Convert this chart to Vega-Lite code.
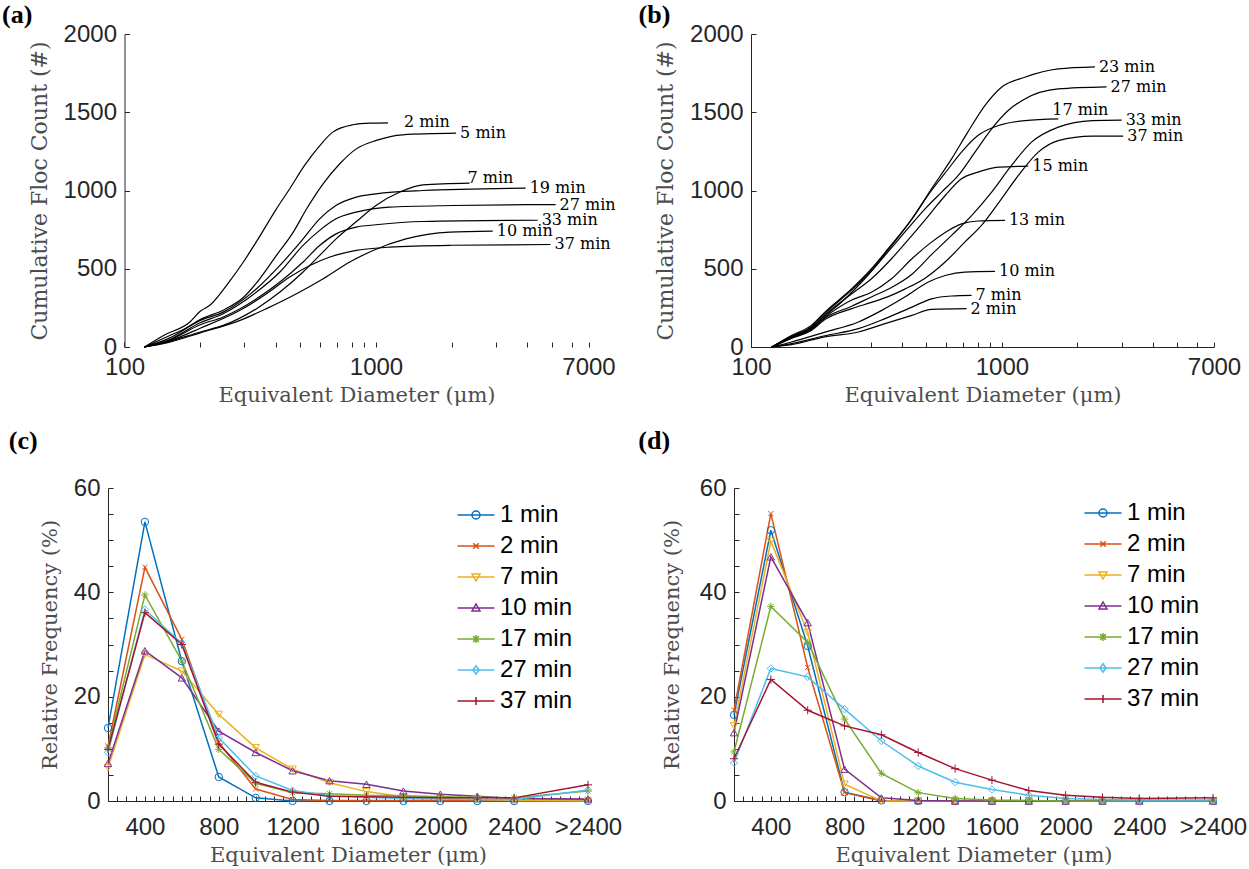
{
 "$schema": "https://vega.github.io/schema/vega-lite/v6.json",
 "padding": {"left": 2, "top": 2, "right": 2, "bottom": 2},
 "background": "white",
 "config": {
  "view": {"stroke": null},
  "axis": {"grid": false, "domainColor": "#262626", "domainWidth": 1, "tickColor": "#262626", "tickWidth": 1, "tickSize": -5, "labelFont": "Liberation Sans", "labelFontSize": 24, "labelColor": "#262626", "labelPadding": 13, "labelFlush": false, "labelOverlap": false, "titleFont": "DejaVu Serif", "titleFontSize": 21, "titleFontWeight": "normal", "titleColor": "#4d4d4d"},
  "axisY": {"titlePadding": 12},
  "axisX": {"titlePadding": 5}
 },
 "datasets": {
  "cumA": [
   {"s":"2 min","d":120,"v":0},{"s":"2 min","d":143,"v":74},{"s":"2 min","d":182,"v":160},{"s":"2 min","d":200,"v":228},{"s":"2 min","d":219,"v":268},{"s":"2 min","d":259,"v":410},{"s":"2 min","d":297,"v":543},{"s":"2 min","d":340,"v":691},{"s":"2 min","d":402,"v":883},{"s":"2 min","d":454,"v":1011},{"s":"2 min","d":520,"v":1160},{"s":"2 min","d":598,"v":1287},{"s":"2 min","d":673,"v":1373},{"s":"2 min","d":810,"v":1420},{"s":"2 min","d":944,"v":1430},{"s":"2 min","d":1116,"v":1432},
   {"s":"5 min","d":120,"v":0},{"s":"5 min","d":150,"v":70},{"s":"5 min","d":175,"v":120},{"s":"5 min","d":200,"v":175},{"s":"5 min","d":250,"v":240},{"s":"5 min","d":296,"v":315},{"s":"5 min","d":345,"v":436},{"s":"5 min","d":402,"v":585},{"s":"5 min","d":469,"v":734},{"s":"5 min","d":530,"v":883},{"s":"5 min","d":616,"v":1043},{"s":"5 min","d":718,"v":1171},{"s":"5 min","d":835,"v":1266},{"s":"5 min","d":1003,"v":1320},{"s":"5 min","d":1275,"v":1356},{"s":"5 min","d":2083,"v":1366},
   {"s":"7 min","d":120,"v":0},{"s":"7 min","d":150,"v":35},{"s":"7 min","d":200,"v":96},{"s":"7 min","d":247,"v":138},{"s":"7 min","d":335,"v":245},{"s":"7 min","d":415,"v":351},{"s":"7 min","d":513,"v":479},{"s":"7 min","d":597,"v":585},{"s":"7 min","d":694,"v":691},{"s":"7 min","d":834,"v":800},{"s":"7 min","d":1000,"v":904},{"s":"7 min","d":1245,"v":990},{"s":"7 min","d":1536,"v":1036},{"s":"7 min","d":2355,"v":1047},
   {"s":"10 min","d":120,"v":0},{"s":"10 min","d":150,"v":30},{"s":"10 min","d":200,"v":90},{"s":"10 min","d":288,"v":170},{"s":"10 min","d":367,"v":245},{"s":"10 min","d":483,"v":340},{"s":"10 min","d":617,"v":436},{"s":"10 min","d":787,"v":543},{"s":"10 min","d":974,"v":617},{"s":"10 min","d":1315,"v":691},{"s":"10 min","d":1965,"v":734},{"s":"10 min","d":2912,"v":740},
   {"s":"19 min","d":120,"v":0},{"s":"19 min","d":150,"v":55},{"s":"19 min","d":200,"v":170},{"s":"19 min","d":247,"v":223},{"s":"19 min","d":335,"v":372},{"s":"19 min","d":415,"v":521},{"s":"19 min","d":513,"v":691},{"s":"19 min","d":597,"v":819},{"s":"19 min","d":693,"v":904},{"s":"19 min","d":835,"v":958},{"s":"19 min","d":1000,"v":979},{"s":"19 min","d":1536,"v":1000},{"s":"19 min","d":3937,"v":1015},
   {"s":"27 min","d":120,"v":0},{"s":"27 min","d":150,"v":45},{"s":"27 min","d":200,"v":155},{"s":"27 min","d":247,"v":213},{"s":"27 min","d":335,"v":351},{"s":"27 min","d":415,"v":479},{"s":"27 min","d":513,"v":649},{"s":"27 min","d":597,"v":745},{"s":"27 min","d":694,"v":819},{"s":"27 min","d":835,"v":862},{"s":"27 min","d":1130,"v":894},{"s":"27 min","d":2000,"v":904},{"s":"27 min","d":5180,"v":910},
   {"s":"33 min","d":120,"v":0},{"s":"33 min","d":150,"v":42},{"s":"33 min","d":200,"v":142},{"s":"33 min","d":247,"v":192},{"s":"33 min","d":335,"v":308},{"s":"33 min","d":415,"v":415},{"s":"33 min","d":513,"v":543},{"s":"33 min","d":597,"v":649},{"s":"33 min","d":694,"v":723},{"s":"33 min","d":835,"v":766},{"s":"33 min","d":1000,"v":781},{"s":"33 min","d":1536,"v":802},{"s":"33 min","d":4395,"v":810},
   {"s":"37 min","d":120,"v":0},{"s":"37 min","d":150,"v":38},{"s":"37 min","d":200,"v":120},{"s":"37 min","d":288,"v":235},{"s":"37 min","d":367,"v":340},{"s":"37 min","d":454,"v":447},{"s":"37 min","d":546,"v":521},{"s":"37 min","d":656,"v":575},{"s":"37 min","d":835,"v":617},{"s":"37 min","d":1130,"v":638},{"s":"37 min","d":2000,"v":650},{"s":"37 min","d":4948,"v":655}
  ],
  "cumB": [
   {"s":"23 min","d":121,"v":0},{"s":"23 min","d":145,"v":74},{"s":"23 min","d":174,"v":138},{"s":"23 min","d":197,"v":223},{"s":"23 min","d":252,"v":372},{"s":"23 min","d":302,"v":500},{"s":"23 min","d":352,"v":628},{"s":"23 min","d":438,"v":819},{"s":"23 min","d":524,"v":1011},{"s":"23 min","d":630,"v":1202},{"s":"23 min","d":731,"v":1373},{"s":"23 min","d":855,"v":1543},{"s":"23 min","d":996,"v":1660},{"s":"23 min","d":1234,"v":1724},{"s":"23 min","d":1677,"v":1777},{"s":"23 min","d":2347,"v":1790},
   {"s":"27 min","d":121,"v":0},{"s":"27 min","d":145,"v":65},{"s":"27 min","d":174,"v":125},{"s":"27 min","d":197,"v":200},{"s":"27 min","d":216,"v":250},{"s":"27 min","d":284,"v":436},{"s":"27 min","d":342,"v":585},{"s":"27 min","d":410,"v":734},{"s":"27 min","d":494,"v":883},{"s":"27 min","d":575,"v":990},{"s":"27 min","d":670,"v":1096},{"s":"27 min","d":781,"v":1245},{"s":"27 min","d":910,"v":1394},{"s":"27 min","d":1059,"v":1511},{"s":"27 min","d":1234,"v":1585},{"s":"27 min","d":1677,"v":1649},{"s":"27 min","d":2612,"v":1662},
   {"s":"17 min","d":121,"v":0},{"s":"17 min","d":145,"v":70},{"s":"17 min","d":174,"v":130},{"s":"17 min","d":197,"v":215},{"s":"17 min","d":252,"v":365},{"s":"17 min","d":302,"v":490},{"s":"17 min","d":352,"v":620},{"s":"17 min","d":438,"v":819},{"s":"17 min","d":524,"v":1000},{"s":"17 min","d":612,"v":1139},{"s":"17 min","d":690,"v":1245},{"s":"17 min","d":802,"v":1351},{"s":"17 min","d":969,"v":1415},{"s":"17 min","d":1234,"v":1447},{"s":"17 min","d":1677,"v":1458},
   {"s":"15 min","d":121,"v":0},{"s":"15 min","d":145,"v":65},{"s":"15 min","d":174,"v":120},{"s":"15 min","d":197,"v":205},{"s":"15 min","d":252,"v":340},{"s":"15 min","d":302,"v":436},{"s":"15 min","d":363,"v":564},{"s":"15 min","d":438,"v":713},{"s":"15 min","d":524,"v":862},{"s":"15 min","d":594,"v":968},{"s":"15 min","d":690,"v":1075},{"s":"15 min","d":802,"v":1117},{"s":"15 min","d":969,"v":1149},{"s":"15 min","d":1273,"v":1156},
   {"s":"13 min","d":121,"v":0},{"s":"13 min","d":145,"v":60},{"s":"13 min","d":174,"v":115},{"s":"13 min","d":197,"v":190},{"s":"13 min","d":252,"v":300},{"s":"13 min","d":302,"v":350},{"s":"13 min","d":363,"v":436},{"s":"13 min","d":438,"v":564},{"s":"13 min","d":524,"v":670},{"s":"13 min","d":612,"v":745},{"s":"13 min","d":690,"v":787},{"s":"13 min","d":802,"v":805},{"s":"13 min","d":1028,"v":809},
   {"s":"33 min","d":121,"v":0},{"s":"33 min","d":145,"v":60},{"s":"33 min","d":174,"v":112},{"s":"33 min","d":197,"v":185},{"s":"33 min","d":252,"v":260},{"s":"33 min","d":302,"v":320},{"s":"33 min","d":363,"v":380},{"s":"33 min","d":438,"v":465},{"s":"33 min","d":524,"v":590},{"s":"33 min","d":630,"v":713},{"s":"33 min","d":757,"v":840},{"s":"33 min","d":910,"v":990},{"s":"33 min","d":1092,"v":1160},{"s":"33 min","d":1312,"v":1309},{"s":"33 min","d":1677,"v":1405},{"s":"33 min","d":2288,"v":1447},{"s":"33 min","d":2999,"v":1450},
   {"s":"37 min","d":121,"v":0},{"s":"37 min","d":145,"v":55},{"s":"37 min","d":174,"v":105},{"s":"37 min","d":197,"v":175},{"s":"37 min","d":252,"v":245},{"s":"37 min","d":302,"v":285},{"s":"37 min","d":350,"v":320},{"s":"37 min","d":410,"v":370},{"s":"37 min","d":494,"v":440},{"s":"37 min","d":594,"v":543},{"s":"37 min","d":711,"v":670},{"s":"37 min","d":829,"v":777},{"s":"37 min","d":996,"v":947},{"s":"37 min","d":1163,"v":1096},{"s":"37 min","d":1396,"v":1245},{"s":"37 min","d":1677,"v":1319},{"s":"37 min","d":2288,"v":1347},{"s":"37 min","d":3043,"v":1348},
   {"s":"10 min","d":121,"v":0},{"s":"10 min","d":145,"v":32},{"s":"10 min","d":197,"v":95},{"s":"10 min","d":268,"v":160},{"s":"10 min","d":332,"v":234},{"s":"10 min","d":410,"v":319},{"s":"10 min","d":509,"v":415},{"s":"10 min","d":594,"v":457},{"s":"10 min","d":711,"v":479},{"s":"10 min","d":938,"v":483},
   {"s":"7 min","d":121,"v":0},{"s":"7 min","d":145,"v":21},{"s":"7 min","d":197,"v":72},{"s":"7 min","d":268,"v":117},{"s":"7 min","d":342,"v":181},{"s":"7 min","d":438,"v":255},{"s":"7 min","d":524,"v":308},{"s":"7 min","d":630,"v":326},{"s":"7 min","d":757,"v":330},
   {"s":"2 min","d":121,"v":0},{"s":"2 min","d":145,"v":15},{"s":"2 min","d":197,"v":65},{"s":"2 min","d":268,"v":96},{"s":"2 min","d":342,"v":149},{"s":"2 min","d":438,"v":202},{"s":"2 min","d":524,"v":240},{"s":"2 min","d":723,"v":245}
  ],
  "freqC": [
   {"s":"1 min","x":200,"v":14},{"s":"1 min","x":400,"v":53.5},{"s":"1 min","x":600,"v":26.8},{"s":"1 min","x":800,"v":4.6},{"s":"1 min","x":1000,"v":0.6},{"s":"1 min","x":1200,"v":0},{"s":"1 min","x":1400,"v":0},{"s":"1 min","x":1600,"v":0},{"s":"1 min","x":1800,"v":0},{"s":"1 min","x":2000,"v":0},{"s":"1 min","x":2200,"v":0},{"s":"1 min","x":2400,"v":0},{"s":"1 min","x":2800,"v":0},
   {"s":"2 min","x":200,"v":10.5},{"s":"2 min","x":400,"v":44.8},{"s":"2 min","x":600,"v":31},{"s":"2 min","x":800,"v":11.2},{"s":"2 min","x":1000,"v":2.3},{"s":"2 min","x":1200,"v":0.3},{"s":"2 min","x":1400,"v":0.1},{"s":"2 min","x":1600,"v":0.1},{"s":"2 min","x":1800,"v":0.1},{"s":"2 min","x":2000,"v":0.1},{"s":"2 min","x":2200,"v":0.1},{"s":"2 min","x":2400,"v":0.1},{"s":"2 min","x":2800,"v":0.3},
   {"s":"7 min","x":200,"v":6.4},{"s":"7 min","x":400,"v":28.1},{"s":"7 min","x":600,"v":24.9},{"s":"7 min","x":800,"v":16.6},{"s":"7 min","x":1000,"v":10.2},{"s":"7 min","x":1200,"v":6.1},{"s":"7 min","x":1400,"v":3.5},{"s":"7 min","x":1600,"v":1.8},{"s":"7 min","x":1800,"v":0.8},{"s":"7 min","x":2000,"v":0.5},{"s":"7 min","x":2200,"v":0.3},{"s":"7 min","x":2400,"v":0.1},{"s":"7 min","x":2800,"v":0},
   {"s":"10 min","x":200,"v":7.2},{"s":"10 min","x":400,"v":28.8},{"s":"10 min","x":600,"v":23.6},{"s":"10 min","x":800,"v":13.4},{"s":"10 min","x":1000,"v":9.3},{"s":"10 min","x":1200,"v":5.8},{"s":"10 min","x":1400,"v":3.9},{"s":"10 min","x":1600,"v":3.2},{"s":"10 min","x":1800,"v":1.9},{"s":"10 min","x":2000,"v":1.3},{"s":"10 min","x":2200,"v":0.9},{"s":"10 min","x":2400,"v":0.5},{"s":"10 min","x":2800,"v":0.4},
   {"s":"17 min","x":200,"v":10.2},{"s":"17 min","x":400,"v":39.5},{"s":"17 min","x":600,"v":26.8},{"s":"17 min","x":800,"v":9.9},{"s":"17 min","x":1000,"v":3.4},{"s":"17 min","x":1200,"v":1.6},{"s":"17 min","x":1400,"v":1.4},{"s":"17 min","x":1600,"v":1.1},{"s":"17 min","x":1800,"v":1},{"s":"17 min","x":2000,"v":0.8},{"s":"17 min","x":2200,"v":0.7},{"s":"17 min","x":2400,"v":0.6},{"s":"17 min","x":2800,"v":1.9},
   {"s":"27 min","x":200,"v":9.3},{"s":"27 min","x":400,"v":36.7},{"s":"27 min","x":600,"v":30.2},{"s":"27 min","x":800,"v":12.1},{"s":"27 min","x":1000,"v":4.8},{"s":"27 min","x":1200,"v":2},{"s":"27 min","x":1400,"v":1},{"s":"27 min","x":1600,"v":0.7},{"s":"27 min","x":1800,"v":0.5},{"s":"27 min","x":2000,"v":0.4},{"s":"27 min","x":2200,"v":0.3},{"s":"27 min","x":2400,"v":0.3},{"s":"27 min","x":2800,"v":2.1},
   {"s":"37 min","x":200,"v":9.9},{"s":"37 min","x":400,"v":36.1},{"s":"37 min","x":600,"v":30},{"s":"37 min","x":800,"v":10.9},{"s":"37 min","x":1000,"v":3.6},{"s":"37 min","x":1200,"v":1.7},{"s":"37 min","x":1400,"v":0.9},{"s":"37 min","x":1600,"v":0.8},{"s":"37 min","x":1800,"v":0.7},{"s":"37 min","x":2000,"v":0.6},{"s":"37 min","x":2200,"v":0.6},{"s":"37 min","x":2400,"v":0.6},{"s":"37 min","x":2800,"v":3.1}
  ],
  "freqD": [
   {"s":"1 min","x":200,"v":16.5},{"s":"1 min","x":400,"v":51.9},{"s":"1 min","x":600,"v":29.7},{"s":"1 min","x":800,"v":1.7},{"s":"1 min","x":1000,"v":0.1},{"s":"1 min","x":1200,"v":0},{"s":"1 min","x":1400,"v":0},{"s":"1 min","x":1600,"v":0},{"s":"1 min","x":1800,"v":0},{"s":"1 min","x":2000,"v":0},{"s":"1 min","x":2200,"v":0},{"s":"1 min","x":2400,"v":0},{"s":"1 min","x":2800,"v":0},
   {"s":"2 min","x":200,"v":17.4},{"s":"2 min","x":400,"v":55.1},{"s":"2 min","x":600,"v":25.6},{"s":"2 min","x":800,"v":1.6},{"s":"2 min","x":1000,"v":0},{"s":"2 min","x":1200,"v":0},{"s":"2 min","x":1400,"v":0},{"s":"2 min","x":1600,"v":0},{"s":"2 min","x":1800,"v":0},{"s":"2 min","x":2000,"v":0},{"s":"2 min","x":2200,"v":0},{"s":"2 min","x":2400,"v":0},{"s":"2 min","x":2800,"v":0},
   {"s":"7 min","x":200,"v":14.4},{"s":"7 min","x":400,"v":49.8},{"s":"7 min","x":600,"v":32.3},{"s":"7 min","x":800,"v":3.2},{"s":"7 min","x":1000,"v":0},{"s":"7 min","x":1200,"v":0},{"s":"7 min","x":1400,"v":0},{"s":"7 min","x":1600,"v":0},{"s":"7 min","x":1800,"v":0},{"s":"7 min","x":2000,"v":0},{"s":"7 min","x":2200,"v":0},{"s":"7 min","x":2400,"v":0},{"s":"7 min","x":2800,"v":0},
   {"s":"10 min","x":200,"v":13.1},{"s":"10 min","x":400,"v":46.8},{"s":"10 min","x":600,"v":34.2},{"s":"10 min","x":800,"v":6.1},{"s":"10 min","x":1000,"v":0.6},{"s":"10 min","x":1200,"v":0.1},{"s":"10 min","x":1400,"v":0},{"s":"10 min","x":1600,"v":0},{"s":"10 min","x":1800,"v":0},{"s":"10 min","x":2000,"v":0},{"s":"10 min","x":2200,"v":0},{"s":"10 min","x":2400,"v":0},{"s":"10 min","x":2800,"v":0},
   {"s":"17 min","x":200,"v":9.4},{"s":"17 min","x":400,"v":37.3},{"s":"17 min","x":600,"v":30.4},{"s":"17 min","x":800,"v":15.7},{"s":"17 min","x":1000,"v":5.3},{"s":"17 min","x":1200,"v":1.6},{"s":"17 min","x":1400,"v":0.5},{"s":"17 min","x":1600,"v":0.2},{"s":"17 min","x":1800,"v":0.1},{"s":"17 min","x":2000,"v":0},{"s":"17 min","x":2200,"v":0},{"s":"17 min","x":2400,"v":0},{"s":"17 min","x":2800,"v":0},
   {"s":"27 min","x":200,"v":7.3},{"s":"27 min","x":400,"v":25.4},{"s":"27 min","x":600,"v":23.8},{"s":"27 min","x":800,"v":17.6},{"s":"27 min","x":1000,"v":11.5},{"s":"27 min","x":1200,"v":6.7},{"s":"27 min","x":1400,"v":3.6},{"s":"27 min","x":1600,"v":2.2},{"s":"27 min","x":1800,"v":1.1},{"s":"27 min","x":2000,"v":0.5},{"s":"27 min","x":2200,"v":0.3},{"s":"27 min","x":2400,"v":0.2},{"s":"27 min","x":2800,"v":0.2},
   {"s":"37 min","x":200,"v":8.1},{"s":"37 min","x":400,"v":23.3},{"s":"37 min","x":600,"v":17.4},{"s":"37 min","x":800,"v":14.4},{"s":"37 min","x":1000,"v":12.7},{"s":"37 min","x":1200,"v":9.3},{"s":"37 min","x":1400,"v":6.2},{"s":"37 min","x":1600,"v":4},{"s":"37 min","x":1800,"v":2},{"s":"37 min","x":2000,"v":1.1},{"s":"37 min","x":2200,"v":0.7},{"s":"37 min","x":2400,"v":0.5},{"s":"37 min","x":2800,"v":0.6}
  ]
 },
 "columns": 2,
 "align": "none",
 "spacing": {"row": 23, "column": 16},
 "concat": [
  {
   "title": {"text": "(a)", "anchor": "start", "frame": "bounds", "dx": -26, "offset": -6, "font": "Liberation Serif", "fontSize": 26, "fontWeight": "bold", "color": "black"},
   "width": 480.5, "height": 313,
   "data": {"name": "cumA"},
   "encoding": {
    "x": {"field": "d", "type": "quantitative", "scale": {"type": "log", "domain": [85.98, 7000], "nice": false}, "axis": {"title": "Equivalent Diameter (μm)", "titleX": 248.5, "domain": false, "values": [100,200,300,400,500,600,700,800,900,1000,2000,3000,4000,5000,6000,7000], "format": "d", "labelExpr": "datum.value == 100 || datum.value == 1000 || datum.value == 7000 ? datum.label : ''"}},
    "y": {"field": "v", "type": "quantitative", "scale": {"domain": [0, 2000], "nice": false}, "axis": {"title": "Cumulative Floc Count (#)", "titleFontSize": 22, "offset": -16.5, "values": [0,500,1000,1500,2000], "format": "d"}}
   },
   "layer": [
    {"data": {"values": [{}]}, "mark": {"type": "rule", "color": "#262626", "strokeWidth": 1}, "encoding": {"x": {"datum": 100}, "x2": {"datum": 7000}, "y": {"datum": 0}}},
    {"mark": {"type": "line", "color": "black", "strokeWidth": 1.2, "interpolate": "monotone"}, "encoding": {"detail": {"field": "s"}}},
    {"transform": [{"joinaggregate": [{"op": "max", "field": "d", "as": "dmax"}], "groupby": ["s"]}, {"filter": "datum.d == datum.dmax && datum.s != '7 min' && datum.s != '2 min'"}],
     "mark": {"type": "text", "align": "left", "baseline": "middle", "dx": 4, "font": "DejaVu Serif", "fontSize": 16, "color": "black"},
     "encoding": {"text": {"field": "s"}}},
    {"transform": [{"joinaggregate": [{"op": "max", "field": "d", "as": "dmax"}], "groupby": ["s"]}, {"filter": "datum.d == datum.dmax && datum.s == '7 min'"}],
     "mark": {"type": "text", "align": "left", "baseline": "middle", "dx": -2, "dy": -5, "font": "DejaVu Serif", "fontSize": 16, "color": "black"},
     "encoding": {"text": {"field": "s"}}},
    {"transform": [{"joinaggregate": [{"op": "max", "field": "d", "as": "dmax"}], "groupby": ["s"]}, {"filter": "datum.d == datum.dmax && datum.s == '2 min'"}],
     "mark": {"type": "text", "align": "left", "baseline": "middle", "dx": 16, "dy": -1, "font": "DejaVu Serif", "fontSize": 16, "color": "black"},
     "encoding": {"text": {"field": "s"}}}
   ]
  },
  {
   "title": {"text": "(b)", "anchor": "start", "frame": "bounds", "dx": -16, "offset": -6, "font": "Liberation Serif", "fontSize": 26, "fontWeight": "bold", "color": "black"},
   "width": 463, "height": 313,
   "data": {"name": "cumB"},
   "encoding": {
    "x": {"field": "d", "type": "quantitative", "scale": {"type": "log", "domain": [100, 7000], "nice": false}, "axis": {"title": "Equivalent Diameter (μm)", "values": [100,200,300,400,500,600,700,800,900,1000,2000,3000,4000,5000,6000,7000], "format": "d", "labelExpr": "datum.value == 100 || datum.value == 1000 || datum.value == 7000 ? datum.label : ''"}},
    "y": {"field": "v", "type": "quantitative", "scale": {"domain": [0, 2000], "nice": false}, "axis": {"title": "Cumulative Floc Count (#)", "titleFontSize": 22, "values": [0,500,1000,1500,2000], "format": "d"}}
   },
   "layer": [
    {"mark": {"type": "line", "color": "black", "strokeWidth": 1.2, "interpolate": "monotone"}, "encoding": {"detail": {"field": "s"}}},
    {"transform": [{"joinaggregate": [{"op": "max", "field": "d", "as": "dmax"}], "groupby": ["s"]}, {"filter": "datum.d == datum.dmax && datum.s != '17 min'"}],
     "mark": {"type": "text", "align": "left", "baseline": "middle", "dx": 4, "font": "DejaVu Serif", "fontSize": 16, "color": "black"},
     "encoding": {"text": {"field": "s"}}},
    {"transform": [{"joinaggregate": [{"op": "max", "field": "d", "as": "dmax"}], "groupby": ["s"]}, {"filter": "datum.d == datum.dmax && datum.s == '17 min'"}],
     "mark": {"type": "text", "align": "left", "baseline": "middle", "dx": -6, "dy": -9, "font": "DejaVu Serif", "fontSize": 16, "color": "black"},
     "encoding": {"text": {"field": "s"}}}
   ]
  },
  {
   "title": {"text": "(c)", "anchor": "start", "frame": "bounds", "dx": -31, "offset": 22, "font": "Liberation Serif", "fontSize": 26, "fontWeight": "bold", "color": "black"},
   "width": 480, "height": 313,
   "data": {"name": "freqC"},
   "encoding": {
    "x": {"field": "x", "type": "quantitative", "scale": {"domain": [200, 2800], "nice": false}, "axis": {"title": "Equivalent Diameter (μm)", "labelPadding": 19, "values": [200,250,300,350,400,450,500,550,600,650,700,750,800,850,900,950,1000,1050,1100,1150,1200,1250,1300,1350,1400,1450,1500,1550,1600,1650,1700,1750,1800,1850,1900,1950,2000,2050,2100,2150,2200,2250,2300,2350,2400,2450,2500,2550,2600,2650,2700,2750,2800], "format": "d", "labelExpr": "datum.value == 2800 ? '>2400' : (datum.value % 400 == 0 ? datum.label : '')"}},
    "y": {"field": "v", "type": "quantitative", "scale": {"domain": [0, 60], "nice": false}, "axis": {"title": "Relative Frequency (%)", "titlePadding": 12.5, "values": [0,5,10,15,20,25,30,35,40,45,50,55,60], "format": "d", "labelExpr": "datum.value % 20 == 0 ? datum.label : ''"}}
   },
   "layer": [
    {"mark": {"type": "line", "strokeWidth": 1.5}, "encoding": {"color": {"field": "s", "type": "nominal", "scale": {"domain": ["1 min","2 min","7 min","10 min","17 min","27 min","37 min"], "range": ["#0072BD","#D95319","#EDB120","#7E2F8E","#77AC30","#4DBEEE","#A2142F"]}, "legend": null}}},
    {"mark": {"type": "point", "filled": false, "opacity": 1, "size": 55, "strokeWidth": 1},
     "encoding": {"color": {"field": "s", "type": "nominal", "scale": {"domain": ["1 min","2 min","7 min","10 min","17 min","27 min","37 min"], "range": ["#0072BD","#D95319","#EDB120","#7E2F8E","#77AC30","#4DBEEE","#A2142F"]}, "legend": null},
      "shape": {"field": "s", "type": "nominal", "scale": {"domain": ["1 min","2 min","7 min","10 min","17 min","27 min","37 min"], "range": ["circle","M-0.7,-0.7L0.7,0.7M-0.7,0.7L0.7,-0.7","triangle-down","triangle-up","M-1,0L1,0M0,-1L0,1M-0.7,-0.7L0.7,0.7M-0.7,0.7L0.7,-0.7","diamond","M-1.1,0L1.1,0M0,-1.1L0,1.1"]}, "legend": null}}},
    {"transform": [{"filter": "false"}],
     "mark": {"type": "point", "filled": false, "opacity": 1, "size": 100, "strokeWidth": 1.5},
     "encoding": {"color": {"field": "s", "type": "nominal", "scale": {"domain": ["1 min","2 min","7 min","10 min","17 min","27 min","37 min"], "range": ["#0072BD","#D95319","#EDB120","#7E2F8E","#77AC30","#4DBEEE","#A2142F"]}, "legend": {"title": null, "orient": "top-right", "offset": 15, "labelFont": "Liberation Sans", "labelFontSize": 24, "labelColor": "black", "labelOffset": 12, "rowPadding": 7, "symbolSize": 100, "symbolStrokeWidth": 1.5}},
      "shape": {"field": "s", "type": "nominal", "scale": {"domain": ["1 min","2 min","7 min","10 min","17 min","27 min","37 min"], "range": ["M-3.7,0L3.7,0M-0.8,0A0.8,0.8,0,1,1,0.8,0A0.8,0.8,0,1,1,-0.8,0","M-3.7,0L3.7,0M-0.55,-0.55L0.55,0.55M-0.55,0.55L0.55,-0.55","M-3.7,0L3.7,0M-0.8,-0.6L0.8,-0.6L0,0.8Z","M-3.7,0L3.7,0M-0.8,0.6L0.8,0.6L0,-0.8Z","M-3.7,0L3.7,0M0,-0.8L0,0.8M-0.57,-0.57L0.57,0.57M-0.57,0.57L0.57,-0.57","M-3.7,0L3.7,0M0,-0.85L0.6,0L0,0.85L-0.6,0Z","M-3.7,0L3.7,0M0,-0.8L0,0.8"]}, "legend": {"title": null, "orient": "top-right", "offset": 15, "labelFont": "Liberation Sans", "labelFontSize": 24, "labelColor": "black", "labelOffset": 12, "rowPadding": 7, "symbolSize": 100, "symbolStrokeWidth": 1.5}}}}
   ],
   "resolve": {"scale": {"color": "independent", "shape": "independent"}, "legend": {"color": "independent", "shape": "independent"}}
  },
  {
   "title": {"text": "(d)", "anchor": "start", "frame": "bounds", "dx": -23, "offset": 22, "font": "Liberation Serif", "fontSize": 26, "fontWeight": "bold", "color": "black"},
   "width": 479, "height": 313,
   "data": {"name": "freqD"},
   "encoding": {
    "x": {"field": "x", "type": "quantitative", "scale": {"domain": [200, 2800], "nice": false}, "axis": {"title": "Equivalent Diameter (μm)", "labelPadding": 19, "values": [200,250,300,350,400,450,500,550,600,650,700,750,800,850,900,950,1000,1050,1100,1150,1200,1250,1300,1350,1400,1450,1500,1550,1600,1650,1700,1750,1800,1850,1900,1950,2000,2050,2100,2150,2200,2250,2300,2350,2400,2450,2500,2550,2600,2650,2700,2750,2800], "format": "d", "labelExpr": "datum.value == 2800 ? '>2400' : (datum.value % 400 == 0 ? datum.label : '')"}},
    "y": {"field": "v", "type": "quantitative", "scale": {"domain": [0, 60], "nice": false}, "axis": {"title": "Relative Frequency (%)", "titlePadding": 17, "values": [0,5,10,15,20,25,30,35,40,45,50,55,60], "format": "d", "labelExpr": "datum.value % 20 == 0 ? datum.label : ''"}}
   },
   "layer": [
    {"mark": {"type": "line", "strokeWidth": 1.5}, "encoding": {"color": {"field": "s", "type": "nominal", "scale": {"domain": ["1 min","2 min","7 min","10 min","17 min","27 min","37 min"], "range": ["#0072BD","#D95319","#EDB120","#7E2F8E","#77AC30","#4DBEEE","#A2142F"]}, "legend": null}}},
    {"mark": {"type": "point", "filled": false, "opacity": 1, "size": 55, "strokeWidth": 1},
     "encoding": {"color": {"field": "s", "type": "nominal", "scale": {"domain": ["1 min","2 min","7 min","10 min","17 min","27 min","37 min"], "range": ["#0072BD","#D95319","#EDB120","#7E2F8E","#77AC30","#4DBEEE","#A2142F"]}, "legend": null},
      "shape": {"field": "s", "type": "nominal", "scale": {"domain": ["1 min","2 min","7 min","10 min","17 min","27 min","37 min"], "range": ["circle","M-0.7,-0.7L0.7,0.7M-0.7,0.7L0.7,-0.7","triangle-down","triangle-up","M-1,0L1,0M0,-1L0,1M-0.7,-0.7L0.7,0.7M-0.7,0.7L0.7,-0.7","diamond","M-1.1,0L1.1,0M0,-1.1L0,1.1"]}, "legend": null}}},
    {"transform": [{"filter": "false"}],
     "mark": {"type": "point", "filled": false, "opacity": 1, "size": 100, "strokeWidth": 1.5},
     "encoding": {"color": {"field": "s", "type": "nominal", "scale": {"domain": ["1 min","2 min","7 min","10 min","17 min","27 min","37 min"], "range": ["#0072BD","#D95319","#EDB120","#7E2F8E","#77AC30","#4DBEEE","#A2142F"]}, "legend": {"title": null, "orient": "top-right", "offset": 13, "labelFont": "Liberation Sans", "labelFontSize": 24, "labelColor": "black", "labelOffset": 12, "rowPadding": 7, "symbolSize": 100, "symbolStrokeWidth": 1.5}},
      "shape": {"field": "s", "type": "nominal", "scale": {"domain": ["1 min","2 min","7 min","10 min","17 min","27 min","37 min"], "range": ["M-3.7,0L3.7,0M-0.8,0A0.8,0.8,0,1,1,0.8,0A0.8,0.8,0,1,1,-0.8,0","M-3.7,0L3.7,0M-0.55,-0.55L0.55,0.55M-0.55,0.55L0.55,-0.55","M-3.7,0L3.7,0M-0.8,-0.6L0.8,-0.6L0,0.8Z","M-3.7,0L3.7,0M-0.8,0.6L0.8,0.6L0,-0.8Z","M-3.7,0L3.7,0M0,-0.8L0,0.8M-0.57,-0.57L0.57,0.57M-0.57,0.57L0.57,-0.57","M-3.7,0L3.7,0M0,-0.85L0.6,0L0,0.85L-0.6,0Z","M-3.7,0L3.7,0M0,-0.8L0,0.8"]}, "legend": {"title": null, "orient": "top-right", "offset": 13, "labelFont": "Liberation Sans", "labelFontSize": 24, "labelColor": "black", "labelOffset": 12, "rowPadding": 7, "symbolSize": 100, "symbolStrokeWidth": 1.5}}}}
   ],
   "resolve": {"scale": {"color": "independent", "shape": "independent"}, "legend": {"color": "independent", "shape": "independent"}}
  }
 ]
}
